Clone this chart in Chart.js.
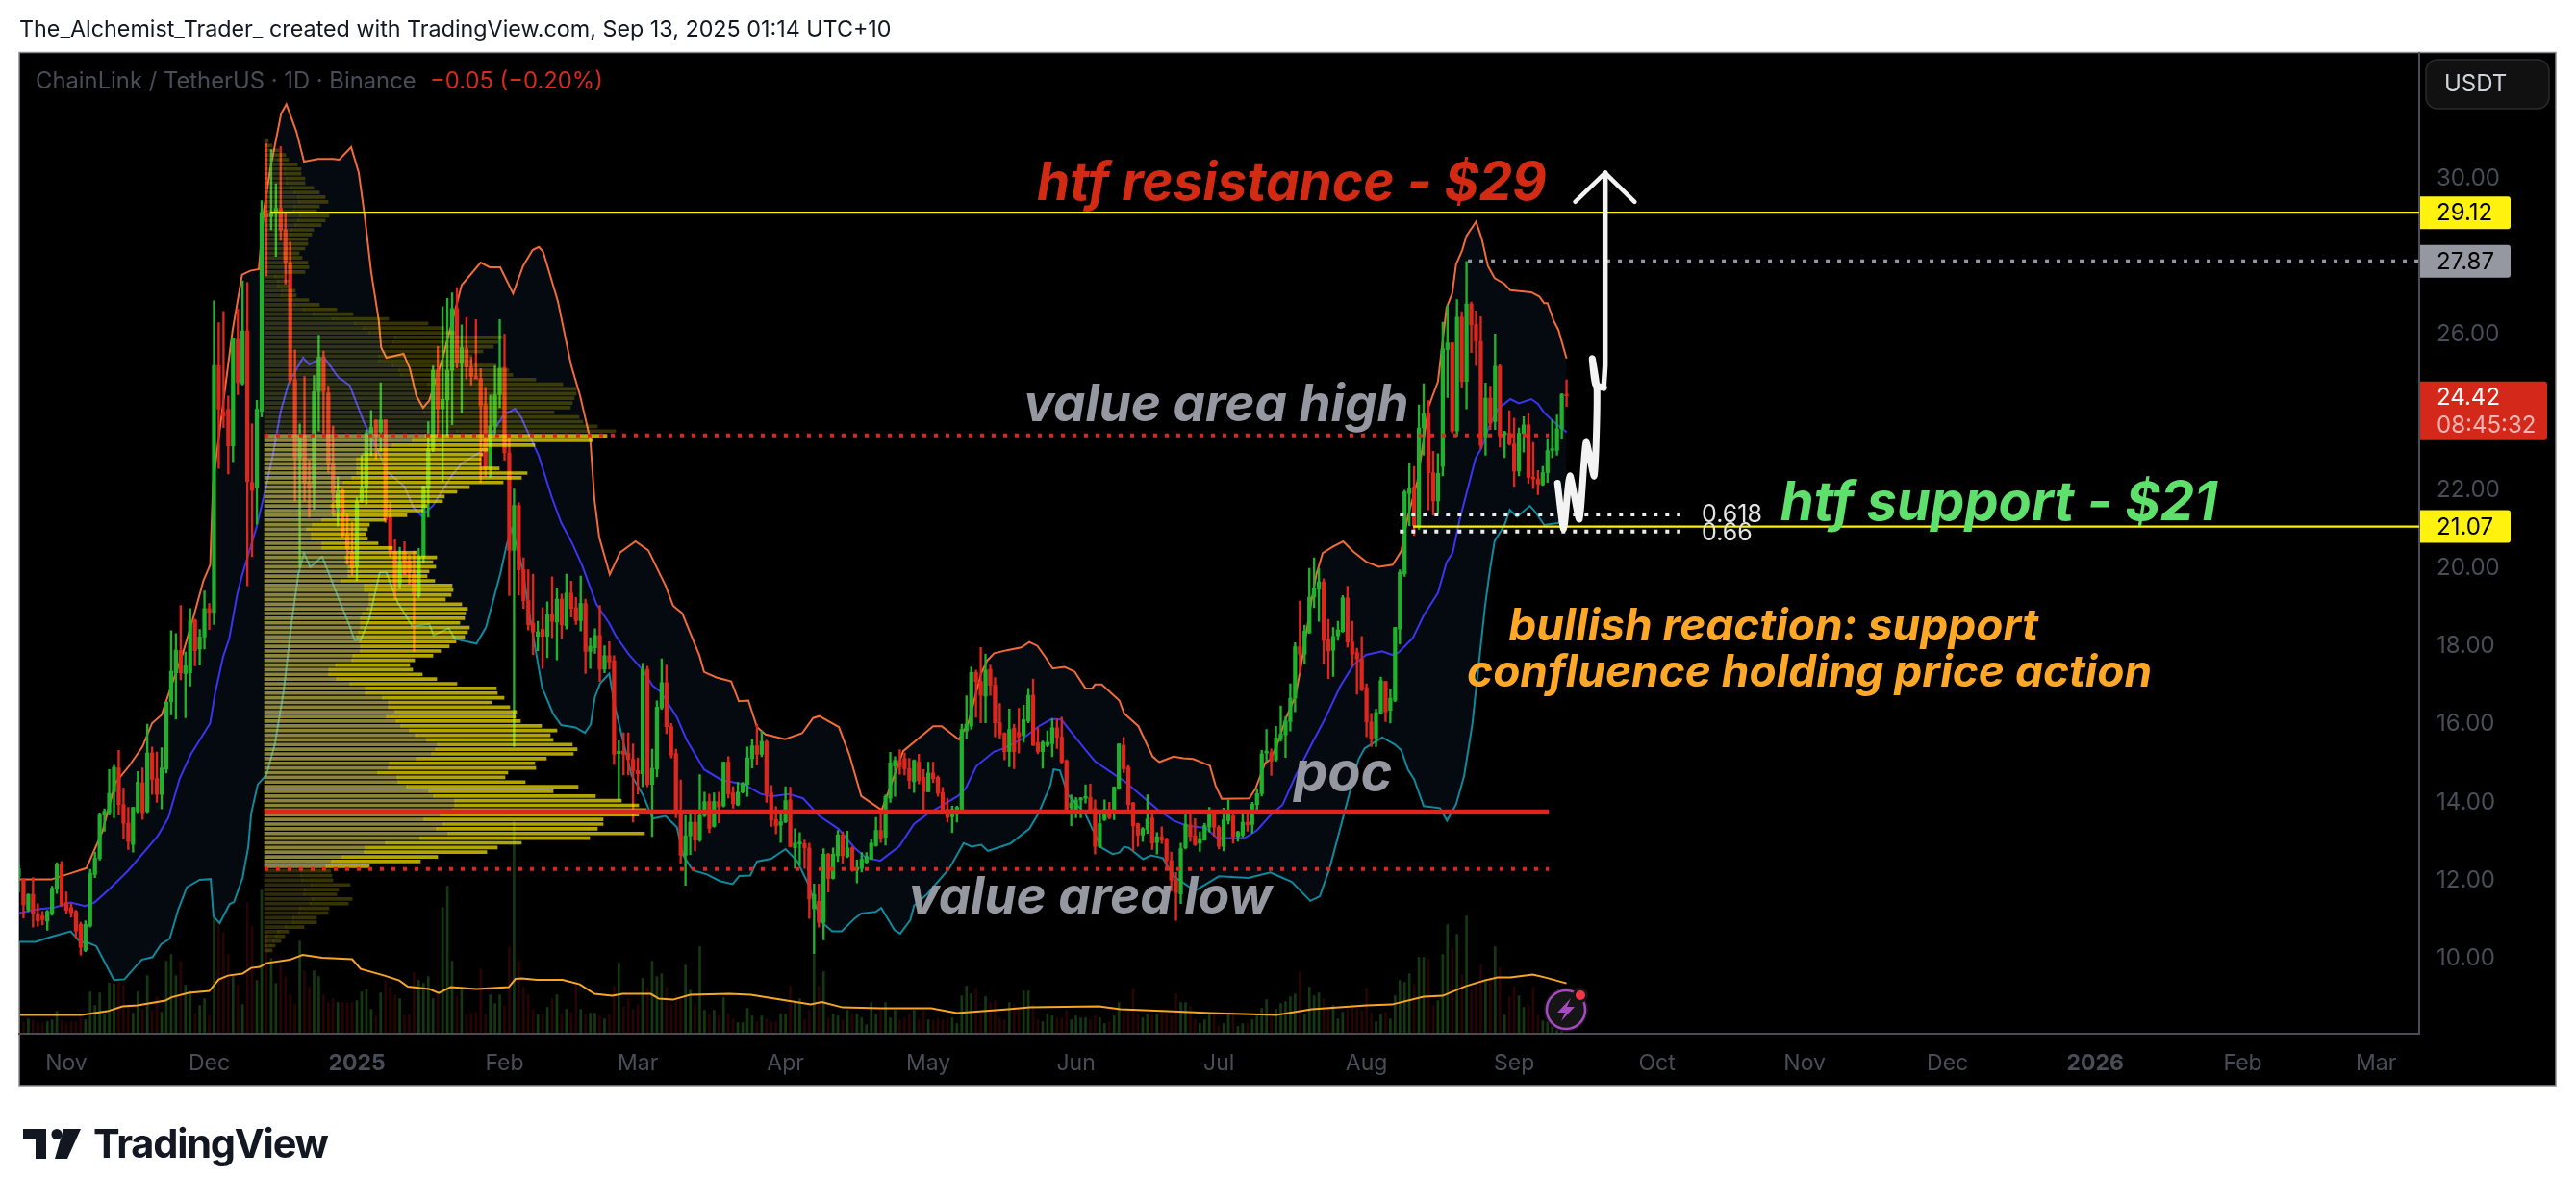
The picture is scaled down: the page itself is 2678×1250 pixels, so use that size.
<!DOCTYPE html>
<html>
<head>
<meta charset="utf-8">
<title>LINKUSDT</title>
<script src="https://cdn.jsdelivr.net/npm/chart.js@4/dist/chart.umd.min.js"></script>
<style>
  html, body { margin: 0; padding: 0; background: #fff; }
  body { width: 2678px; height: 1250px; position: relative; overflow: hidden; }
  canvas { position: absolute; left: 0; top: 0; }
  #header { position: absolute; left: 20px; top: 15px; font: 400 23.3px Inter, sans-serif; color: #131722; white-space: nowrap; }
  #brand { position: absolute; left: 97px; top: 1164px; font: 700 41.5px Inter, sans-serif; letter-spacing: -1.2px; color: #131722; }
  #logo { position: absolute; left: 24px; top: 1174px; }
  #bolt { position: absolute; left: 1604px; top: 1024px; }
</style>
</head>
<body>
<canvas id="chart" width="2678" height="1250"></canvas>
<div id="header">The_Alchemist_Trader_ created with TradingView.com, Sep 13, 2025 01:14 UTC+10</div>
<svg id="logo" width="62" height="31" viewBox="0 0 62 31">
  <path d="M0 0H24V31H13V11H0Z M42 0H60L46 31H33Z" fill="#131722"/>
  <circle cx="35" cy="5.5" r="5.5" fill="#131722"/>
</svg>
<div id="brand">TradingView</div>
<svg id="bolt" width="52" height="52" viewBox="0 0 52 52">
  <circle cx="24" cy="26" r="23" fill="#151515"/>
  <circle cx="24" cy="26" r="20" fill="none" stroke="#a849c4" stroke-width="2.5"/>
  <path d="M29 14L15 29H23L19 38L33 23H25Z" fill="#a849c4"/>
  <circle cx="39" cy="11" r="8" fill="#151515"/>
  <circle cx="39" cy="11" r="5" fill="#f23645"/>
</svg>
<script>
// days counted from 1 Nov 2024
const firstDay = -10;

const opens = [
  12.1,12.02,11.24,11.64,11.12,11.08,10.95,11.15,11.77,12.42,
  11.43,11.3,11.2,10.87,10.2,10.83,12.15,12.56,13.67,13.74,
  14.27,14.88,13.94,13.46,12.92,13.77,14.5,13.76,15.26,14.61,
  14.2,14.85,16.58,17.32,17.89,17.3,17.32,18.67,17.93,18.24,
  18.97,18.87,25.2,24.0,24.08,23.14,25.87,24.73,26.09,22.2,
  22.08,24.02,29.12,29.02,29.1,29.23,28.68,27.83,24.83,22.84,
  23.41,22.19,22.05,24.53,25.41,24.49,22.66,21.54,22.0,20.84,
  20.4,20.03,21.72,22.05,23.43,23.8,23.5,23.81,21.31,20.43,
  19.62,20.4,20.18,19.85,19.3,20.29,22.05,23.05,25.08,24.09,
  24.31,25.08,26.66,25.25,25.63,25.16,24.92,24.86,24.2,22.58,
  23.65,24.45,25.16,22.96,20.46,21.61,19.96,19.17,18.59,18.26,
  18.44,18.26,18.81,18.62,19.21,18.53,19.36,18.99,18.66,19.1,
  17.87,17.96,18.28,17.41,17.76,17.63,15.25,15.31,15.25,15.1,
  14.81,14.73,17.41,14.46,14.85,16.42,17.07,15.94,15.25,13.74,
  12.64,13.14,13.49,13.03,13.66,14.02,13.38,14.02,13.91,15.03,
  14.24,13.93,14.26,14.46,15.12,15.45,15.23,15.56,14.24,13.56,
  13.41,13.5,14.06,12.83,12.93,12.94,12.83,11.27,11.46,10.92,
  12.67,12.05,12.63,13.16,12.61,12.83,12.26,12.3,12.46,12.54,
  12.89,13.28,13.1,14.1,14.93,15.07,15.13,14.86,14.53,15.03,
  14.64,14.27,14.75,14.64,14.25,13.82,13.63,13.69,13.78,15.83,
  15.95,17.33,17.1,16.72,17.41,17.0,16.04,15.77,15.3,15.9,
  15.79,15.71,16.08,16.74,15.53,15.3,15.46,15.5,15.91,15.67,
  15.07,13.86,13.82,14.06,14.1,14.12,13.84,12.86,13.55,13.82,
  13.82,14.35,15.46,14.9,13.98,13.45,13.16,13.3,13.6,12.97,
  13.12,13.06,12.5,12.0,11.65,12.83,13.42,13.14,12.95,13.03,
  13.36,13.71,13.36,12.87,13.53,13.65,13.12,13.16,13.49,13.43,
  13.94,14.22,15.26,15.27,15.09,15.61,15.73,16.07,16.67,17.99,
  17.8,18.35,19.26,19.46,19.65,18.17,17.9,18.27,18.38,19.24,
  18.11,17.84,17.68,16.94,16.06,15.65,16.28,17.1,16.36,16.61,
  18.44,19.86,21.91,22.08,21.09,23.6,23.97,22.45,21.73,22.61,
  25.61,25.78,23.52,26.44,24.79,26.78,26.25,25.82,23.37,24.36,
  23.76,25.18,23.43,23.46,23.19,22.49,23.46,23.68,22.34,22.29,
  22.14,22.45,23.02,23.02,23.58,24.46
];
const highs = [
  12.4,12.05,11.65,12.07,11.4,11.2,11.23,11.85,12.45,12.48,
  11.7,11.4,11.23,10.92,10.96,12.28,12.72,13.73,13.83,14.84,
  14.95,15.33,14.37,13.87,13.87,14.79,14.88,16.0,15.42,15.29,
  15.4,16.58,18.4,18.33,19.05,17.85,18.97,18.7,18.43,19.42,
  19.1,26.86,26.3,26.59,24.42,25.91,26.65,27.37,27.33,23.7,
  24.31,29.43,30.9,30.74,29.86,30.82,29.09,28.37,25.6,23.7,
  24.92,22.77,24.94,25.98,25.57,24.67,23.65,22.35,22.03,21.4,
  21.18,21.81,22.9,23.54,24.05,23.81,24.76,23.81,21.69,20.73,
  20.54,20.68,20.35,20.44,20.51,22.11,23.76,25.19,25.69,26.71,
  26.92,27.06,27.2,26.24,26.43,25.41,26.38,25.12,24.64,24.44,
  25.19,26.38,26.0,23.32,22.03,21.69,20.27,19.96,19.85,18.64,
  18.99,19.14,19.78,19.5,19.34,19.85,19.67,19.25,19.8,19.21,
  18.22,18.45,19.05,18.01,18.12,17.76,15.58,15.78,15.78,15.5,
  15.14,17.56,17.49,15.36,16.6,17.68,17.52,16.02,15.36,14.57,
  13.66,13.71,13.69,14.71,14.26,14.21,14.24,14.26,15.03,15.17,
  14.4,14.51,14.51,15.42,15.62,16.0,15.83,15.59,14.43,13.89,
  13.71,14.4,14.39,13.32,13.22,13.03,12.95,11.9,11.9,12.81,
  12.69,12.83,13.28,13.24,13.26,12.86,12.52,12.71,12.71,13.05,
  13.61,13.78,14.19,15.28,15.17,15.35,15.27,15.13,15.09,15.23,
  14.84,15.03,15.03,14.68,14.38,14.1,13.9,13.9,16.0,16.73,
  17.47,17.39,17.97,17.8,17.52,17.2,16.53,15.79,16.39,16.0,
  16.41,16.49,16.92,17.16,15.91,15.57,15.83,16.14,16.14,16.18,
  15.09,14.19,14.12,14.12,14.45,14.47,14.06,13.69,14.06,14.0,
  14.4,15.5,15.67,14.94,14.0,13.46,13.35,14.19,13.71,13.22,
  13.37,13.08,12.72,12.2,12.95,13.69,13.73,13.58,13.24,13.46,
  13.87,13.73,13.4,13.85,14.06,13.69,13.26,13.71,13.73,14.0,
  14.35,15.33,15.87,15.37,15.95,16.47,16.2,17.04,18.09,19.16,
  18.54,20.0,20.27,20.0,19.73,18.69,18.48,18.64,19.3,19.54,
  18.64,17.95,18.25,17.04,16.28,16.39,17.21,17.1,16.91,18.49,
  19.96,22.0,22.7,22.61,24.19,24.73,24.3,23.0,22.94,26.31,
  26.74,25.78,26.89,26.58,27.87,26.83,26.6,26.45,24.75,24.67,
  26.01,25.22,23.52,24.04,23.85,23.6,23.89,23.97,23.23,22.51,
  22.61,23.3,23.8,23.93,24.48,24.83
];
const lows = [
  11.7,11.03,11.2,10.8,10.82,10.85,10.72,11.1,11.66,11.33,
  11.15,11.05,10.53,10.08,10.17,10.8,12.07,12.52,13.26,13.67,
  13.6,13.67,13.06,12.79,12.72,13.73,13.56,13.73,14.2,14.0,
  13.83,14.75,16.24,16.13,17.14,16.17,16.98,17.5,17.52,17.93,
  18.43,18.56,22.56,23.61,22.42,22.73,24.45,24.7,19.55,20.3,
  21.13,23.88,27.5,28.68,28.0,28.41,27.29,24.76,21.72,20.03,
  21.72,21.31,21.51,23.52,23.41,22.46,21.38,21.08,20.77,20.1,
  19.82,19.69,21.69,21.65,22.89,22.8,23.0,21.17,20.3,19.2,
  19.48,19.83,19.6,17.87,19.25,20.13,21.31,22.99,23.4,22.22,
  23.4,23.68,25.14,23.98,24.86,24.7,24.86,22.2,22.36,22.33,
  23.43,24.12,22.77,19.3,15.43,19.32,18.97,18.42,17.79,17.89,
  17.43,17.71,18.22,17.65,18.2,18.44,18.75,18.56,18.39,17.3,
  17.43,17.82,17.1,17.32,17.41,14.97,14.05,14.7,14.7,13.49,
  14.21,14.4,14.4,13.12,14.65,16.38,15.76,15.14,13.6,12.44,
  11.87,12.66,12.75,12.99,13.63,13.22,13.36,13.47,13.88,14.11,
  13.85,13.91,14.24,14.15,14.88,14.95,15.17,14.0,13.38,13.19,
  12.97,13.47,12.85,12.3,12.38,12.3,11.02,10.12,10.8,10.47,
  11.7,12.03,12.48,12.44,12.58,12.23,11.93,12.21,12.42,12.53,
  12.87,12.97,12.9,14.0,14.15,14.72,14.7,14.35,14.25,14.47,
  13.82,14.27,14.5,14.15,13.78,13.49,13.22,13.49,13.76,15.63,
  15.87,16.18,16.04,16.04,16.74,15.68,15.63,15.09,14.91,14.86,
  15.26,15.54,16.04,15.46,15.24,14.87,15.42,15.17,15.38,15.0,
  13.82,13.4,13.6,13.6,13.98,13.78,12.67,12.83,13.53,13.57,
  13.55,14.33,14.76,13.82,12.75,12.87,12.99,13.2,12.79,12.67,
  12.94,12.31,11.72,10.97,11.4,12.8,12.99,12.89,12.74,13.02,
  13.24,13.13,12.8,12.75,13.44,12.95,13.0,13.11,13.26,13.21,
  13.81,14.16,15.05,14.69,15.05,15.56,15.15,15.83,16.32,17.31,
  17.54,18.33,18.99,18.64,17.55,17.17,17.23,18.15,18.36,17.98,
  17.49,16.77,16.86,15.68,15.43,15.43,16.26,16.07,16.03,16.58,
  18.06,19.79,21.09,20.84,21.0,22.9,21.5,21.36,21.4,22.37,
  24.38,23.47,23.39,24.63,24.09,25.53,25.2,23.06,22.9,23.56,
  23.56,23.11,22.84,23.16,22.1,22.37,22.98,22.18,22.04,21.89,
  22.12,22.2,22.84,22.9,23.31,24.15
];
const closes = [
  12.3,11.37,11.64,11.15,10.96,10.99,11.2,11.8,12.41,11.37,
  11.23,11.17,10.7,10.28,10.87,12.18,12.56,13.67,13.77,14.23,
  14.9,13.94,13.46,12.99,13.87,14.52,13.73,15.26,14.59,14.2,
  14.88,16.57,17.36,17.9,17.32,17.5,18.65,17.89,18.24,18.97,
  18.87,25.2,24.08,23.9,23.14,25.91,24.76,26.09,22.23,22.0,
  24.08,29.12,29.0,29.12,29.23,28.68,27.83,24.83,22.84,23.41,
  22.19,22.08,24.53,25.41,24.53,22.66,21.92,21.99,20.84,20.5,
  20.0,21.72,22.05,23.47,23.61,23.41,23.81,21.24,20.43,19.62,
  20.16,19.85,19.91,19.36,20.29,22.11,23.05,25.08,24.09,24.33,
  25.08,26.66,25.27,25.66,25.16,24.92,24.86,24.17,22.58,23.65,
  24.45,25.14,22.96,20.46,21.61,19.96,19.17,18.55,18.37,18.37,
  18.26,18.81,18.64,19.21,18.55,19.36,18.97,18.66,19.1,17.87,
  18.0,18.28,17.41,17.76,17.6,15.23,15.31,15.23,15.1,14.81,
  14.73,17.41,14.46,14.87,16.44,17.07,15.94,15.21,13.78,12.64,
  13.14,13.49,13.03,13.66,14.02,13.33,14.02,13.88,15.03,14.21,
  13.96,14.26,14.48,15.14,15.45,15.23,15.56,14.21,13.54,13.39,
  13.5,14.04,12.86,12.95,12.97,12.83,11.52,11.64,10.92,12.67,
  12.05,12.67,13.16,12.63,12.83,12.26,12.33,12.54,12.61,12.95,
  13.28,13.08,14.15,15.01,15.07,14.91,14.86,14.56,15.07,14.56,
  14.27,14.75,14.61,14.23,13.82,13.61,13.82,13.87,15.87,16.0,
  17.33,17.1,16.74,17.39,17.0,16.04,15.73,15.3,15.87,15.3,
  15.68,16.12,16.74,15.46,15.3,15.54,15.54,15.91,15.67,15.03,
  13.82,13.98,14.06,14.1,14.12,13.82,12.87,13.45,13.82,13.61,
  14.39,15.5,14.86,13.94,13.4,13.16,13.32,13.57,12.95,13.12,
  13.03,12.5,12.0,11.68,12.81,13.44,13.12,12.91,13.07,13.4,
  13.71,13.36,12.87,13.55,13.69,13.12,13.24,13.49,13.42,13.95,
  14.22,15.24,15.31,15.05,15.65,15.75,16.09,16.67,17.99,17.8,
  18.39,19.26,19.49,19.65,18.15,17.88,18.25,18.42,19.24,18.11,
  17.8,17.68,16.88,16.06,15.62,16.3,17.12,16.32,16.67,18.48,
  19.9,21.96,22.04,21.09,23.6,23.97,22.45,21.73,22.43,25.63,
  25.78,23.52,26.44,24.79,26.78,26.25,25.82,23.15,24.36,23.72,
  25.18,23.39,23.49,23.19,22.49,23.46,23.68,22.33,22.29,22.16,
  22.45,23.02,23.06,23.58,24.46,24.42
];
const volumes = [
  10,12,15,14,10,10,12,14,23,14,
  10,12,12,16,14,43,29,42,20,52,
  51,55,50,28,21,43,25,60,24,38,
  22,75,82,60,75,50,44,20,29,36,
  18,255,155,105,82,59,50,30,136,111,
  55,149,105,78,52,71,59,40,30,96,
  65,48,65,59,40,32,36,32,32,32,
  32,34,43,46,25,18,42,55,49,40,
  36,19,20,63,55,52,59,36,42,131,
  153,75,38,48,20,21,22,67,20,40,
  31,40,28,90,220,75,48,40,25,19,
  20,27,36,40,20,25,22,55,25,20,
  21,21,18,15,20,49,73,28,36,25,
  30,57,47,75,59,62,48,30,40,35,
  71,45,30,90,24,20,24,18,37,20,
  15,11,11,26,18,12,18,15,12,12,
  20,20,49,32,36,14,24,82,49,64,
  16,20,18,14,24,20,20,16,9,32,
  20,24,32,16,24,14,16,20,24,14,
  24,14,14,16,14,16,16,10,39,49,
  41,47,20,38,32,34,16,14,32,30,
  26,44,44,30,14,12,20,18,16,16,
  24,14,18,16,16,14,18,16,10,12,
  18,32,20,22,47,20,16,20,20,20,
  22,20,18,41,32,32,28,15,10,14,
  20,20,8,10,20,22,7,10,10,14,
  19,26,35,17,25,31,33,38,41,64,
  20,48,39,42,36,26,29,15,22,26,
  30,26,24,47,21,12,20,22,15,39,
  55,53,62,51,79,79,77,29,34,82,
  113,88,103,61,122,46,53,71,56,57,
  90,68,19,38,49,39,27,29,48,19,
  13,12,8,3,2,1
];

const upperDays = [-9.9,-3.2,0.9,4.2,7.6,10.3,13.3,16,18,20,21.8,24.4,26.5,28.8,30.2,30.8,32.2,34.9,36.9,38.6,40.4,41.5,42.9,45.1,46.2,48.3,49.9,52.8,56,57.3,59.8,61.4,62.7,64,65.6,66.1,67.2,70.8,72.1,73.5,74.9,76.2,79,83,87,88.9,91.1,93.8,95.9,97.9,99.2,100.1,103.2,106,107.8,110,110.9,111.9,114.1,116.3,119.5,122.2,125.8,127.4,129.3,132.9,133.9,136.5,139.6,141.2,143.2,145,146.8,150.9,154.5,156.8,158.1,162.2,164.4,166.9,171.2,172.5,175.7,182,183.8,187.4,189.4,192.1,193.4,194.8,197.5,200.5,202.2,203.9,205.6,207.1,209.6,211.7,214,215.4,216,217.4,221.1,222.1,225.1,228.1,229.5,232.5,234.5,236.6,240.1,241.3,242.6,248.4,249.7,251.7,252.7,254.1,256.1,258.1,259.2,261.5,262.5,263.8,265.9,268.1,270.2,272.9,275.6,278.5,280.3,281.7,283.7,286,288,289.8,291,291.8,293.1,294,296,297.2,298.5,299.9,301.9,303.2,307.6,309.3,310.3,311,312.3,313.3,315];
const upperBand = [12.02,12.02,12.18,12.31,13.26,14.5,14.95,15.43,16.03,16.24,16.9,17.8,18.67,19.69,20.09,22.19,23.54,26.1,27.53,27.63,27.67,29.2,30.3,31.66,31.9,31.2,30.43,30.5,30.5,30.48,30.8,30.14,28.98,27.6,26.36,25.66,25.4,25.5,25.13,24.42,24.12,24.3,25.38,27.26,27.84,27.72,27.72,27.05,27.75,28.16,28.24,28.12,26.85,25.2,24.46,23.31,21.75,20.79,19.84,20.41,20.69,20.46,19.56,19.04,18.85,17.77,17.34,17.2,17.1,16.59,16.61,15.93,15.74,15.62,15.77,16.16,16.21,15.93,15.22,14.16,13.8,14.23,15.31,15.95,15.95,15.61,16.04,17.31,17.64,17.82,17.9,17.97,18.11,18.01,17.72,17.43,17.47,17.35,16.92,16.92,17.02,17.02,16.61,16.28,15.95,15.17,15.03,15.17,15.13,15.11,14.94,14.43,14.09,14.1,14.35,15.0,15.09,15.42,16.16,16.73,17.47,19.2,19.86,20.39,20.55,20.69,20.43,20.17,20.04,20.09,20.44,21.34,22.24,24.13,24.79,26.68,27.05,27.79,28.16,28.53,28.89,28.45,27.75,27.44,27.3,27.13,27.08,26.97,26.8,26.8,26.35,26.11,25.38];

const basisDays = [-9.9,-5.9,-2.5,0.9,3.9,5.9,9,13,19.1,21.4,23.8,26.1,30.2,31.2,32.9,34.2,35.9,36.9,39.9,41.6,43.3,45,46.7,49.7,51,54.1,57.1,59.5,62.5,64.9,67.5,70.9,72.9,74.6,77,81,83,87,91.8,94.2,95.5,99.2,101.9,103.9,106.3,108.3,111.3,114,115.4,118,121.1,123.1,124.8,128.2,130.2,133.9,137.6,142.3,145.7,148,151.7,154.7,158.1,162.1,165.5,167.9,170.9,174.9,178,180.7,187.1,188.8,191.1,194.8,196.8,200.8,204.2,206.9,208.9,214,216,219,222.4,226.4,229.1,232.5,235.2,239.3,241.6,247.4,250,252.7,255.4,258.1,261.5,264.2,267.5,270.2,272.9,276.3,278.3,279.7,282.7,285,288,289.8,291.1,292.5,293.8,295.9,297.2,298.9,300.6,303.2,305,307.6,309,310.3,312.3,315];
const basisLine = [11.16,11.26,11.3,11.43,11.34,11.43,11.77,12.25,13.12,13.6,14.61,15.22,16.03,16.78,17.73,18.2,19.35,19.82,21.04,21.92,22.87,24.02,24.76,25.4,25.23,25.41,24.9,24.69,23.74,23.14,22.46,22.11,21.56,21.34,21.61,22.39,22.69,22.99,23.93,24.09,23.87,22.88,21.83,21.17,20.62,20.07,19.08,18.59,18.26,17.81,17.38,16.99,16.83,16.18,15.61,14.84,14.57,14.46,14.22,14.15,14.21,14.1,13.65,13.32,12.83,12.58,12.5,12.87,13.45,13.69,14.15,14.35,14.93,15.3,15.38,15.63,15.95,16.14,16.12,15.34,15.05,14.8,14.52,14.1,13.82,13.53,13.4,13.34,13.08,13.08,13.28,13.65,13.94,14.68,15.5,16.12,16.98,17.51,17.78,17.87,17.78,17.84,18.21,18.79,19.37,20.15,20.4,21.22,21.83,22.82,23.1,23.68,24.09,24.34,24.23,24.34,24.22,23.99,23.76,23.49];

const lowerDays = [-9.9,-6.5,-3.2,0.9,2.9,4.5,6.3,10,12.2,15.8,18.1,19.9,21.7,23.5,25.3,28,30.3,30.9,32.2,34.3,35.2,37,38.2,38.8,40.2,42,43.8,45.6,47.4,48.7,49.9,51.2,53.7,55.5,57.3,59.5,60.5,61.8,63.6,65.8,67.2,69.5,72.6,76.2,77.1,80.3,81.6,86.1,88.1,91.1,92.5,93.5,94.5,95.8,97.5,99.9,102.2,103.9,106.9,108.9,110.1,111,112.1,114,115,116.7,118.7,121.1,123.1,125.8,128.2,129.5,131.5,134.5,137.2,139.9,141.3,143.6,145,148,151,153.4,155.8,158.5,160.8,162.8,165.5,166.9,169.9,171.1,173.9,175.1,177.2,178,180.7,185.4,188.4,190.1,192.1,193.5,198.2,202.2,204.2,206.6,207.3,208.6,210.3,214,215.4,217.4,219.7,221.1,222.1,223.1,226.1,227.8,230.2,232.5,237,242,248.2,252.8,257.3,261.2,263.2,265.2,268.6,271.3,272.6,276.3,279,280.3,281.7,283,285,288.4,289.9,291.8,293.5,295.2,296.8,297.9,298.9,299.9,301.9,303.1,304.6,307.3,308.6,310.3,313.3,315];
const lowerBand = [10.42,10.42,10.55,10.69,10.42,10.4,10.31,9.44,9.46,9.96,10.03,10.36,10.5,11.25,11.82,12.01,12.03,11.07,10.9,11.39,11.44,12.06,12.86,13.71,14.46,14.7,15.5,16.82,18.71,19.84,20.39,20.03,20.3,19.75,19.18,18.52,18.16,18.16,18.71,19.89,19.89,19.14,18.52,18.57,18.29,18.46,18.19,18.07,18.48,19.85,20.62,21.01,20.62,19.96,18.64,16.94,16.27,15.98,15.92,15.78,16.0,16.71,17.05,17.3,16.55,15.67,14.68,14.18,13.58,13.65,13.36,12.64,12.26,12.15,11.98,11.9,12.11,12.12,12.48,12.55,12.8,12.5,11.9,10.94,10.69,10.69,11.02,11.15,11.19,11.29,10.72,10.63,10.98,11.35,11.64,12.3,12.95,12.86,12.91,12.75,12.94,13.32,13.73,14.43,14.84,14.82,14.19,13.69,13.32,12.83,12.67,12.71,12.86,12.83,12.54,12.64,12.57,12.1,11.73,12.1,12.06,12.2,11.96,11.47,11.59,12.29,13.85,15.09,15.38,15.66,15.48,15.33,14.84,14.59,13.9,13.85,13.53,13.94,14.68,15.99,17.8,19.04,19.94,20.7,21.09,21.5,21.32,21.6,21.42,21.11,21.16,21.6];

const volMaDays = [-9.7,3.2,8.6,11.8,14.9,20.8,22.1,25.7,30,32,33.9,37,38.8,40.6,42,46.9,49.6,53.7,60,61.8,66.8,69.9,71.7,76.2,78.2,80.7,86.1,92.9,94.3,95.6,98.8,104.2,107.8,110.9,114.6,116.8,122.7,124.4,127.4,131,139.2,143.7,156.3,158.6,163,170.8,181.6,187,197.8,202.3,216.8,221.3,231.2,240.2,254.1,261.5,273,278.3,285,289,293.8,297.8,300.5,303.2,307.9,310.6,315];
const volMa = [19,19,23,28,29,34,37.5,42,44,56,60,62,68,69,73,76.5,81.5,78.5,77,67,60,55,48.6,46,42,48,46,48,56.6,57,55.5,55.5,51,41,39,41,41,36,35,40,41,40,30,32.5,27,26,26,21,25,27,28,25,23,21,19,25,29,30,38,39,49,55,58,58,61,58,52];

// volume profile, one row per price bucket from the top down
const profileTop = 30.96;
const profileStep = 0.12;
const profileStartDay = 41.6;
const profileTotal = [
  4,8,15,22,25,34,38,38,42,42,51,57,63,66,57,54,67,63,59,51,49,45,45,42,36,39,45,46,42,20,
  25,25,32,33,46,57,75,92,129,170,187,198,247,243,238,227,216,216,241,254,258,282,310,324,324,322,320,318,301,327,
  331,346,365,356,341,281,232,227,225,225,244,273,267,248,213,200,187,185,169,165,148,
  126,109,107,105,107,118,133,158,179,175,178,171,169,177,195,196,194,188,205,211,209,208,203,213,211,
  208,199,192,183,175,156,151,154,164,179,200,241,242,249,236,255,262,261,266,288,304,297,300,320,325,
  321,293,281,282,253,250,271,326,300,344,371,389,397,389,352,352,346,395,338,267,242,231,180,162,109,
  69,70,71,89,77,75,91,87,67,66,54,54,41,25,21,17,11,8
];
const profileBuy = [
  2,4,8,12,14,19,21,21,23,23,28,31,35,36,31,30,37,35,32,28,27,25,25,23,20,21,25,25,23,11,
  14,14,18,18,25,31,41,51,71,94,103,109,136,134,131,125,119,119,133,140,142,155,170,178,178,177,176,175,166,180,
  182,190,200,167,154,133,118,102,96,96,96,96,91,82,73,78,73,73,69,82,71,
  60,50,44,49,49,60,60,87,84,84,87,87,87,80,104,104,109,109,109,107,102,100,100,100,98,
  96,99,100,100,92,91,74,67,67,75,89,105,105,123,129,129,136,127,137,142,151,157,169,180,178,
  174,158,130,129,118,138,139,148,171,176,198,198,196,183,166,186,179,191,162,126,105,104,81,70,64,
  38,38,39,49,42,41,50,48,37,36,30,30,22,14,12,9,6,4
];
const profileValueAreaFirst = 63;
const profileValueAreaLast = 155;

// levels
const resistance = 29.12;
const support = 21.07;
const swingHigh = 27.87;
const valueAreaHigh = 23.41;
const pointOfControl = 13.76;
const valueAreaLow = 12.29;
const fib618 = 21.38;
const fib66 = 20.94;
const lastPrice = 24.42;

// hand drawn arrow
const squiggleDays = [313.1,314.4,315.7,317.7,319.1,320.8,321.4,320.4,321.1,322.8];
const squigglePrices = [22.18,21.01,22.37,21.26,23.23,22.37,24.55,25.38,24.71,24.63];
const shaftDays = [322.8,323.1,323.1];
const shaftPrices = [24.63,25.2,30.14];
const arrowHeadDays = [316.8,323.1,329.3];
const arrowHeadPrices = [29.4,30.14,29.4];

const priceTicks = [10,12,14,16,18,20,22,26,30];
const timeTicks = [0,30,61,92,120,151,181,212,242,273,304,334,365,395,426,457,485];
const timeLabels = ['Nov','Dec','2025','Feb','Mar','Apr','May','Jun','Jul','Aug','Sep','Oct','Nov','Dec','2026','Feb','Mar'];

const upColor = '#20b22c';
const downColor = '#e0261c';
const axisText = '#4a4d58';
const X_MAX = 494.04;

const days = closes.map((_, i) => firstDay + i);
const candleColors = closes.map((c, i) => c >= opens[i] ? upColor : downColor);
const volumeColors = closes.map((c, i) => c >= opens[i] ? 'rgba(46,125,40,0.45)' : 'rgba(150,20,15,0.25)');
const zip = (xs, ys) => xs.map((x, i) => ({ x, y: ys[i] }));
const inValueArea = i => i >= profileValueAreaFirst && i <= profileValueAreaLast;
const rowPrice = i => profileTop - i * profileStep;

function level(value, from, to, color, width, dash) {
  return {
    type: 'line', data: [{ x: from, y: value }, { x: to, y: value }],
    borderColor: color, borderWidth: width, borderDash: dash || [],
    pointRadius: 0, order: -1, xAxisID: 'x', yAxisID: 'y'
  };
}
function band(xs, ys, color, order, extra) {
  return Object.assign({
    type: 'line', data: zip(xs, ys), borderColor: color, borderWidth: 2,
    pointRadius: 0, tension: 0, order, xAxisID: 'x', yAxisID: 'y'
  }, extra || {});
}
function stroke(xs, ys, width, tension) {
  return {
    type: 'line', data: zip(xs, ys), borderColor: '#f3f3f3', borderWidth: width,
    borderJoinStyle: 'round', borderCapStyle: 'round', tension, pointRadius: 0,
    order: -2, xAxisID: 'x', yAxisID: 'y'
  };
}

const dotted = [4, 8];
const datasets = [
  // 0: lower band, filled up to from the upper one
  band(lowerDays, lowerBand, '#0e8a9c', 6),
  band(upperDays, upperBand, '#f26a38', 7, { fill: { target: 0 }, backgroundColor: '#040a10' }),
  band(basisDays, basisLine, '#3b35f2', 5),
  {
    type: 'bar', label: 'Volume', data: zip(days, volumes), backgroundColor: volumeColors,
    barThickness: 2, grouped: false, order: 9, xAxisID: 'x', yAxisID: 'yVol'
  },
  {
    type: 'line', data: zip(volMaDays, volMa), borderColor: '#f6a623', borderWidth: 2,
    pointRadius: 0, order: 8, xAxisID: 'x', yAxisID: 'yVol'
  },
  {
    type: 'bar', label: 'Wicks', data: days.map((d, i) => ({ x: d, y: [lows[i], highs[i]] })),
    backgroundColor: candleColors, barThickness: 1.7, grouped: false, order: 4, xAxisID: 'x', yAxisID: 'y'
  },
  {
    type: 'bar', label: 'Bodies', data: days.map((d, i) => ({ x: d, y: [opens[i], closes[i]] })),
    backgroundColor: candleColors, barThickness: 3.6, minBarLength: 2, grouped: false, order: 3, xAxisID: 'x', yAxisID: 'y'
  },
  {
    type: 'bar', indexAxis: 'y', label: 'Profile buy',
    data: profileBuy.map((v, i) => ({ x: [0, v], y: rowPrice(i) })),
    backgroundColor: profileBuy.map((_, i) => inValueArea(i) ? 'rgba(205,195,85,0.68)' : 'rgba(230,220,60,0.2)'),
    barThickness: 3, grouped: false, order: 1, xAxisID: 'xProfile', yAxisID: 'y'
  },
  {
    type: 'bar', indexAxis: 'y', label: 'Profile sell',
    data: profileTotal.map((v, i) => ({ x: [profileBuy[i], v], y: rowPrice(i) })),
    backgroundColor: profileTotal.map((_, i) => inValueArea(i) ? 'rgba(255,235,0,0.7)' : 'rgba(255,235,0,0.22)'),
    barThickness: 3, grouped: false, order: 1, xAxisID: 'xProfile', yAxisID: 'y'
  },
  level(resistance, 42.8, X_MAX, '#fff200', 2.2),
  level(support, 282.8, X_MAX, '#fff200', 2.2),
  level(swingHigh, 294.3, X_MAX, '#9598a1', 4, dotted),
  level(valueAreaHigh, profileStartDay, 311.3, downColor, 4, dotted),
  level(pointOfControl, profileStartDay, 311.3, downColor, 4.8),
  level(valueAreaLow, profileStartDay, 311.3, downColor, 4, dotted),
  level(fib618, 280, 338.9, '#ececec', 4, dotted),
  level(fib66, 280, 338.9, '#ececec', 4, dotted),
  stroke(squiggleDays, squigglePrices, 7, 0.2),
  stroke(shaftDays, shaftPrices, 5.5, 0),
  stroke(arrowHeadDays, arrowHeadPrices, 4.5, 0)
];

const notes = [
  { text: 'htf resistance - $29', day: 203.8, price: 29.45, color: '#d32a14', size: 55 },
  { text: 'value area high', day: 201, price: 23.77, color: '#9598a1', size: 53 },
  { text: 'value area low', day: 176.9, price: 11.15, color: '#9598a1', size: 53 },
  { text: 'poc', day: 257.7, price: 14.3, color: '#9598a1', size: 56 },
  { text: 'htf support - $21', day: 359.9, price: 21.23, color: '#5fe06c', size: 56 },
  { text: 'bullish reaction: support', day: 302.8, price: 18.15, color: '#ffa726', size: 46 },
  { text: 'confluence holding price action', day: 294.1, price: 16.97, color: '#ffa726', size: 46 }
];
const priceBoxes = [
  { value: resistance, bg: '#fff20f', fg: '#000' },
  { value: swingHigh, bg: '#9598a1', fg: '#000' },
  { value: support, bg: '#fff20f', fg: '#000' }
];

function roundedRight(ctx, x, y, w, h, r) {
  ctx.beginPath();
  ctx.roundRect(x, y, w, h, [0, r, r, 0]);
  ctx.fill();
}

const frame = {
  id: 'frame',
  beforeDraw(chart) {
    const { ctx, chartArea, scales } = chart;
    ctx.save();
    ctx.fillStyle = '#000';
    ctx.fillRect(chartArea.left, chartArea.top, scales.y.right - chartArea.left, scales.x.bottom - chartArea.top);
    ctx.strokeStyle = '#8a8c92';
    ctx.lineWidth = 1.5;
    ctx.strokeRect(chartArea.left, chartArea.top, scales.y.right - chartArea.left, scales.x.bottom - chartArea.top);
    ctx.restore();
  },
  afterDraw(chart) {
    const { ctx, chartArea, scales } = chart;
    const { x, y } = scales;
    ctx.save();
    ctx.textBaseline = 'alphabetic';
    ctx.textAlign = 'left';

    // hand written notes on the chart
    notes.forEach(n => {
      ctx.font = 'italic 700 ' + n.size + 'px Inter, sans-serif';
      ctx.fillStyle = n.color;
      ctx.fillText(n.text, x.getPixelForValue(n.day), y.getPixelForValue(n.price));
    });

    // fib labels
    ctx.font = '400 25px Inter, sans-serif';
    ctx.fillStyle = '#e4e4e4';
    ctx.textBaseline = 'middle';
    ctx.fillText('0.618', 1769, y.getPixelForValue(fib618));
    ctx.fillText('0.66', 1769, y.getPixelForValue(fib66) + 2);

    // legend
    ctx.font = '400 23.8px Inter, sans-serif';
    ctx.fillStyle = axisText;
    ctx.fillText('ChainLink / TetherUS · 1D · Binance', 37, 85);
    ctx.fillStyle = '#d9281c';
    ctx.fillText('−0.05 (−0.20%)', 447, 85);

    // price axis labels
    const axisX = chartArea.right + 1;
    ctx.font = '400 24px Inter, sans-serif';
    priceBoxes.forEach(b => {
      const py = y.getPixelForValue(b.value);
      ctx.fillStyle = b.bg;
      roundedRight(ctx, axisX, py - 17, 94, 34, 3);
      ctx.fillStyle = b.fg;
      ctx.fillText(b.value.toFixed(2), 2533, py + 1);
    });
    const lastY = y.getPixelForValue(lastPrice);
    ctx.fillStyle = '#d4281a';
    roundedRight(ctx, axisX, lastY - 15, 132, 61, 3);
    ctx.fillStyle = '#fff';
    ctx.fillText(lastPrice.toFixed(2), 2533, lastY + 2);
    ctx.fillStyle = '#f3b5b0';
    ctx.fillText('08:45:32', 2533, lastY + 31);

    // currency button
    ctx.fillStyle = '#111';
    ctx.strokeStyle = '#2b2b2b';
    ctx.lineWidth = 1.5;
    ctx.beginPath();
    ctx.roundRect(2522, 62, 128, 51, 12);
    ctx.fill();
    ctx.stroke();
    ctx.fillStyle = '#d1d4dc';
    ctx.fillText('USDT', 2541, 88);
    ctx.restore();
  }
};

new Chart(document.getElementById('chart'), {
  data: { datasets },
  plugins: [frame],
  options: {
    responsive: false,
    devicePixelRatio: 1,
    animation: false,
    layout: { padding: { left: 20, top: 54.5, right: 21, bottom: 121 } },
    plugins: { legend: { display: false }, tooltip: { enabled: false } },
    scales: {
      x: {
        type: 'linear', position: 'bottom', min: -9.897, max: X_MAX, offset: false,
        grid: { display: false, drawTicks: false },
        border: { display: true, color: '#4a4d57', width: 2 },
        afterBuildTicks(scale) { scale.ticks = timeTicks.map(value => ({ value })); },
        afterFit(scale) { scale.height = 54.4; },
        ticks: {
          autoSkip: false, maxRotation: 0, padding: 18, color: axisText,
          font: ctx => ({
            family: 'Inter, sans-serif', size: 23,
            weight: /^20/.test(timeLabels[ctx.index] || '') ? '700' : '400'
          }),
          callback: (value, i) => timeLabels[i]
        }
      },
      y: {
        type: 'linear', position: 'right', min: 8.074, max: 33.23, offset: false,
        grid: { display: false, drawTicks: false },
        border: { display: true, color: '#4a4d57', width: 2 },
        afterBuildTicks(scale) { scale.ticks = priceTicks.map(value => ({ value })); },
        afterFit(scale) { scale.width = 142; },
        ticks: {
          autoSkip: false, padding: 18, color: axisText,
          font: { family: 'Inter, sans-serif', size: 24 },
          callback: value => value.toFixed(2)
        }
      },
      yVol: { type: 'linear', axis: 'y', display: false, min: 0, max: 1020.1, offset: false },
      xProfile: { type: 'linear', axis: 'x', display: false, min: -255, max: 2240, offset: false }
    }
  }
});
</script>
</body>
</html>
